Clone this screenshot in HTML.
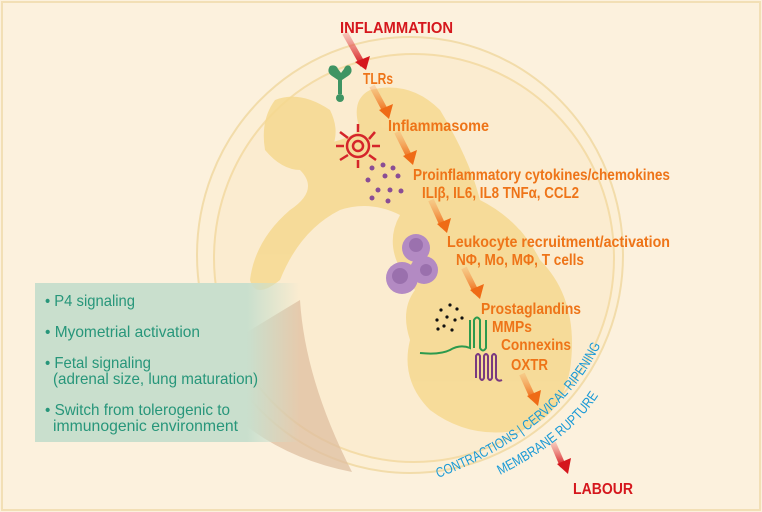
<!DOCTYPE html>
<html><head><meta charset="utf-8"><style>
body{margin:0;background:#fff}
svg{display:block}
text{font-family:"Liberation Sans",sans-serif}
</style></head><body>
<svg width="762" height="512" viewBox="0 0 762 512" xmlns="http://www.w3.org/2000/svg">
<defs>
<linearGradient id="og" x1="0" y1="0" x2="0" y2="1"><stop offset="0" stop-color="#f5a05a" stop-opacity="0.3"/><stop offset="1" stop-color="#ef6b16"/></linearGradient>
<linearGradient id="rg" x1="0" y1="0" x2="0" y2="1"><stop offset="0" stop-color="#e86060" stop-opacity="0.3"/><stop offset="1" stop-color="#d5171d"/></linearGradient>
<linearGradient id="gb" x1="0" y1="0" x2="1" y2="0"><stop offset="0" stop-color="#c9dfcd"/><stop offset="0.8" stop-color="#c9dfcd"/><stop offset="1" stop-color="#c9dfcd" stop-opacity="0"/></linearGradient>
<path id="p1" d="M 438 478 Q 575 425 610 322"/>
<path id="p2" d="M 500 475 Q 590 430 612 368"/>
</defs>
<rect x="0" y="0" width="762" height="512" fill="#fcf1dd"/>
<rect x="2" y="2" width="758" height="508" fill="none" stroke="#f2dfb5" stroke-width="2"/>
<ellipse cx="410" cy="255" rx="213" ry="218" fill="#fcefd6" stroke="#f2dcaa" stroke-width="2"/>
<ellipse cx="414" cy="258" rx="200" ry="204" fill="#fbecd0" stroke="#f4dca8" stroke-width="2"/>
<path d="M199 362 Q 250 330 300 300 Q 305 380 352 472 Q 290 460 245 425 Q 212 395 199 362 z" fill="#dfbfa0" opacity="0.75"/>
<!-- fetus -->
<g fill="#f6d990" opacity="0.85">
<path d="M360 130 Q 350 100 370 90 Q 410 80 440 110 Q 470 160 480 200 Q 520 220 540 260 Q 580 300 570 370 Q 560 420 520 430 Q 470 440 430 410 Q 400 380 410 340 Q 400 310 415 290 Q 380 250 400 215 Q 370 200 340 210 Q 300 230 280 280 Q 255 300 250 280 Q 255 240 290 210 Q 320 190 300 170 Q 280 150 300 140 Q 330 150 360 130 z"/>
<path d="M275 100 Q 300 90 330 110 Q 345 140 320 165 Q 290 180 265 150 Q 260 120 275 100 z"/>
<path d="M430 215 Q 470 200 520 230 Q 545 260 520 275 Q 480 270 450 250 z"/>
</g>
<!-- arrows -->
<line x1="345" y1="33" x2="363" y2="65" stroke="url(#rg)" stroke-width="6"/><polygon points="355,62 370,56 366,70" fill="#d5171d"/>
<line x1="372" y1="86" x2="386" y2="112" stroke="url(#og)" stroke-width="6"/><polygon points="379,110 393,104 389,119" fill="#ef6b16"/>
<line x1="397" y1="132" x2="410" y2="158" stroke="url(#og)" stroke-width="6"/><polygon points="403,156 417,150 413,165" fill="#ef6b16"/>
<line x1="431" y1="200" x2="443" y2="226" stroke="url(#og)" stroke-width="6"/><polygon points="437,224 451,218 447,233" fill="#ef6b16"/>
<line x1="464" y1="268" x2="476" y2="292" stroke="url(#og)" stroke-width="6"/><polygon points="470,290 484,284 480,299" fill="#ef6b16"/>
<line x1="522" y1="374" x2="533" y2="398" stroke="url(#og)" stroke-width="6"/><polygon points="527,396 541,390 538,406" fill="#ef6b16"/>
<line x1="553" y1="443" x2="563" y2="466" stroke="url(#rg)" stroke-width="6"/><polygon points="557,464 571,458 568,474" fill="#d5171d"/>
<!-- icons -->
<g fill="#3f9463"><path d="M330 66 q-4 6 2 10 l6 4 v14 h4 v-14 l6 -4 q6 -4 2 -10 q-4 -2 -6 3 l-3 4 l-3 -4 q-2 -5 -8 -3z"/><circle cx="340" cy="98" r="4"/></g>
<g stroke="#d5252a" stroke-width="2.5" fill="none"><circle cx="358" cy="146" r="11"/><circle cx="358" cy="146" r="5"/><path d="M340 132 l8 6 M375 132 l-6 7 M340 160 l8 -5 M376 160 l-7 -5 M358 124 v8 M358 168 v-8 M336 146 h8 M380 146 h-8"/></g>
<g fill="#8a4d95"><circle cx="372" cy="168" r="2.5"/><circle cx="383" cy="165" r="2.5"/><circle cx="393" cy="168" r="2.5"/><circle cx="398" cy="176" r="2.5"/><circle cx="368" cy="180" r="2.5"/><circle cx="385" cy="176" r="2.5"/><circle cx="378" cy="190" r="2.5"/><circle cx="390" cy="190" r="2.5"/><circle cx="401" cy="191" r="2.5"/><circle cx="372" cy="198" r="2.5"/><circle cx="388" cy="201" r="2.5"/></g>
<g fill="#b38ac3"><circle cx="416" cy="248" r="14"/><circle cx="424" cy="270" r="14"/><circle cx="402" cy="278" r="16"/></g>
<g fill="#8a60a0" opacity="0.6"><circle cx="416" cy="245" r="7"/><circle cx="400" cy="276" r="8"/><circle cx="426" cy="270" r="6"/></g>
<g fill="#111"><circle cx="441" cy="310" r="1.6"/><circle cx="450" cy="305" r="1.6"/><circle cx="457" cy="309" r="1.6"/><circle cx="437" cy="320" r="1.6"/><circle cx="447" cy="317" r="1.6"/><circle cx="455" cy="320" r="1.6"/><circle cx="462" cy="318" r="1.6"/><circle cx="444" cy="326" r="1.6"/><circle cx="452" cy="330" r="1.6"/><circle cx="438" cy="329" r="1.6"/></g>
<g stroke="#2c9a4d" stroke-width="2" fill="none"><path d="M420 353 q20 2 30 -3 q10 -6 20 -2 v-28 M474 348 v-28 q3 -5 6 0 v28 q3 5 6 0 v-28"/></g>
<g stroke="#7a3a80" stroke-width="2" fill="none"><path d="M476 378 v-22 q2 -4 4 0 v22 q2 4 4 0 v-22 q2 -4 4 0 v22 q2 4 4 0 v-22 q2 -4 4 0 v22 q2 4 6 2"/></g>
<!-- green box -->
<rect x="35" y="283" width="265" height="159" fill="url(#gb)"/>
<g fill="#27967a" font-size="16">
<text x="45" y="306" textLength="90" lengthAdjust="spacingAndGlyphs">• P4 signaling</text>
<text x="45" y="337" textLength="155" lengthAdjust="spacingAndGlyphs">• Myometrial activation</text>
<text x="45" y="368" textLength="106" lengthAdjust="spacingAndGlyphs">• Fetal signaling</text>
<text x="53" y="384" textLength="205" lengthAdjust="spacingAndGlyphs">(adrenal size, lung maturation)</text>
<text x="45" y="415" textLength="185" lengthAdjust="spacingAndGlyphs">• Switch from tolerogenic to</text>
<text x="53" y="431" textLength="185" lengthAdjust="spacingAndGlyphs">immunogenic environment</text>
</g>
<!-- labels -->
<g font-weight="bold" fill="#d5171d" font-size="16">
<text x="340" y="33" textLength="113" lengthAdjust="spacingAndGlyphs">INFLAMMATION</text>
<text x="573" y="494" textLength="60" lengthAdjust="spacingAndGlyphs">LABOUR</text>
</g>
<g fill="#ee7418" font-size="16" font-weight="bold">
<text x="363" y="84" textLength="30" lengthAdjust="spacingAndGlyphs">TLRs</text>
<text x="388" y="131" textLength="101" lengthAdjust="spacingAndGlyphs">Inflammasome</text>
<text x="413" y="180" textLength="257" lengthAdjust="spacingAndGlyphs">Proinflammatory cytokines/chemokines</text>
<text x="422" y="198" textLength="157" lengthAdjust="spacingAndGlyphs">ILIβ, IL6, IL8 TNFα, CCL2</text>
<text x="447" y="247" textLength="223" lengthAdjust="spacingAndGlyphs">Leukocyte recruitment/activation</text>
<text x="456" y="265" textLength="128" lengthAdjust="spacingAndGlyphs">NΦ, Mo, MΦ, T cells</text>
<text x="481" y="314" textLength="100" lengthAdjust="spacingAndGlyphs">Prostaglandins</text>
<text x="492" y="332" textLength="40" lengthAdjust="spacingAndGlyphs">MMPs</text>
<text x="501" y="350" textLength="70" lengthAdjust="spacingAndGlyphs">Connexins</text>
<text x="511" y="370" textLength="37" lengthAdjust="spacingAndGlyphs">OXTR</text>
</g>
<g fill="#1a9ad6" font-size="14">
<text><textPath href="#p1" textLength="215" lengthAdjust="spacingAndGlyphs">CONTRACTIONS | CERVICAL RIPENING</textPath></text>
<text><textPath href="#p2" textLength="128" lengthAdjust="spacingAndGlyphs">MEMBRANE RUPTURE</textPath></text>
</g>
</svg>
</body></html>
